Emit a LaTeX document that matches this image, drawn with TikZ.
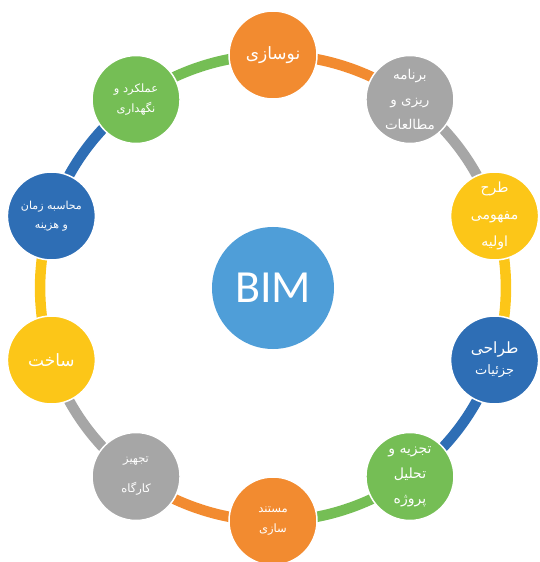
\documentclass[tikz,border=0pt]{standalone}
\usepackage{fontspec}
\setmainfont{Carlito}
\newfontfamily\farsi[Script=Arabic]{DejaVu Sans}
\TeXXeTstate=1
\usetikzlibrary{backgrounds}
\definecolor{bimorange}{RGB}{242,139,48}
\definecolor{bimgray}{RGB}{166,166,166}
\definecolor{bimyellow}{RGB}{252,198,24}
\definecolor{bimblue}{RGB}{46,110,181}
\definecolor{bimgreen}{RGB}{117,190,85}
\definecolor{bimcore}{RGB}{79,158,216}
\newcommand{\fa}[1]{\beginR #1\endR}

\begin{document}
\begin{tikzpicture}[
    x=1pt, y=1pt,
    stage/.style={circle, draw=white, line width=1.5pt, fill=#1, minimum size=88pt, inner sep=0pt, align=center, text=white},
    smalltxt/.style={font=\farsi\fontsize{11.5}{20}\selectfont},
    midtxt/.style={font=\farsi\fontsize{13.5}{25}\selectfont},
    bigtxt/.style={font=\farsi\fontsize{17}{20}\selectfont},
    ring/.style={line width=10.5pt, draw=#1, bend left=18, looseness=0.87},
]
\useasboundingbox (-273,-274) rectangle (266,288);

%% Core
\node[circle, fill=bimcore, minimum size=122pt, inner sep=0pt, text=white, font=\fontsize{46}{46}\selectfont] (bim) at (0,0) {BIM};

%% Stages, clockwise from the top
\node[stage=bimorange, bigtxt] (renew) at (90:233) {\fa{نوسازی}};
\node[stage=bimgray, midtxt] (plan) at (54:233) {\fa{برنامه}\\\fa{ریزی و}\\\fa{مطالعات}};
\node[stage=bimyellow, midtxt, font=\farsi\fontsize{14}{27}\selectfont] (concept) at (18:233) {\fa{طرح}\\\fa{مفهومی}\\\fa{اولیه}};
\node[stage=bimblue, font=\farsi\fontsize{13}{21}\selectfont] (detail) at (-18:233) {{\fontsize{15.5}{21}\selectfont\fa{طراحی}}\\\fa{جزئیات}};
\node[stage=bimgreen, midtxt, font=\farsi\fontsize{14}{25}\selectfont] (analysis) at (-54:233) {\fa{تجزیه و}\\\fa{تحلیل}\\\fa{پروژه}};
\node[stage=bimorange, smalltxt] (docs) at (-90:233) {\fa{مستند}\\\fa{سازی}};
\node[stage=bimgray, smalltxt, font=\farsi\fontsize{11.5}{30}\selectfont] (site) at (-126:233) {\fa{تجهیز}\\\fa{کارگاه}};
\node[stage=bimyellow, bigtxt] (build) at (-162:233) {\fa{ساخت}};
\node[stage=bimblue, smalltxt, font=\farsi\fontsize{11}{19}\selectfont] (cost) at (162:233) {\fa{محاسبه زمان}\\\fa{و هزینه}};
\node[stage=bimgreen, smalltxt] (operate) at (126:233) {\fa{عملکرد و}\\\fa{نگهداری}};

%% Ring
\begin{scope}[on background layer]
\draw[ring=bimorange] (renew.center) to (plan.center);
\draw[ring=bimgray] (plan.center) to (concept.center);
\draw[ring=bimyellow] (concept.center) to (detail.center);
\draw[ring=bimblue] (detail.center) to (analysis.center);
\draw[ring=bimgreen] (analysis.center) to (docs.center);
\draw[ring=bimorange] (docs.center) to (site.center);
\draw[ring=bimgray] (site.center) to (build.center);
\draw[ring=bimyellow] (build.center) to (cost.center);
\draw[ring=bimblue] (cost.center) to (operate.center);
\draw[ring=bimgreen] (operate.center) to (renew.center);
\end{scope}

\end{tikzpicture}
\end{document}
